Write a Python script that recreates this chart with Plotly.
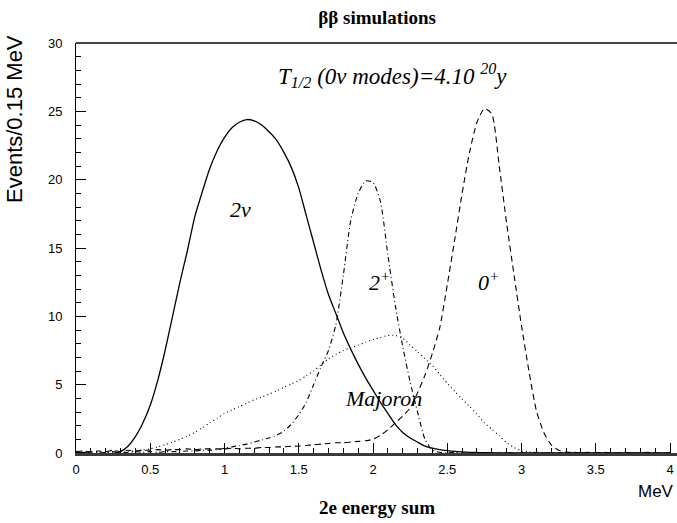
import plotly.graph_objects as go

# ---- data ----
x_energy = [round(0.05 * i, 2) for i in range(81)]  # 0.00 .. 4.00 MeV

two_nu = [0.0, 0.05, -0.05, -0.1, -0.1, -0.05, 0.1, 0.5, 1.2, 2.2,
          3.5, 5.3, 7.5, 10.0, 12.5, 14.8, 17.3, 19.1, 20.8, 22.1,
          23.1, 23.8, 24.2, 24.4, 24.3, 24.0, 23.5, 22.9, 22.0, 20.9,
          19.4, 17.4, 15.4, 13.4, 11.6, 10.2, 8.8, 7.6, 6.5, 5.5,
          4.6, 3.7, 2.9, 2.1, 1.5, 1.1, 0.8, 0.5, 0.35, 0.25,
          0.18, 0.12, 0.08, 0.05, 0.03, 0.02, 0.02, 0.01, 0.01, 0.01,
          0.0, 0.01, 0.0, 0.0, 0.01, 0.0, 0.0, 0.0, 0.0, 0.0,
          0.0, 0.0, 0.0, 0.0, 0.0, 0.0, 0.0, 0.0, 0.0, 0.0, 0.0]

zero_plus = [0.1, 0.15, 0.05, 0.15, 0.1, 0.2, 0.1, 0.2, 0.15, 0.2,
             0.2, 0.25, 0.2, 0.25, 0.25, 0.3, 0.25, 0.3, 0.3, 0.3,
             0.3, 0.35, 0.3, 0.35, 0.35, 0.4, 0.4, 0.45, 0.45, 0.5,
             0.5, 0.55, 0.6, 0.65, 0.7, 0.75, 0.75, 0.8, 0.85, 0.9,
             1.0, 1.3, 1.7, 2.2, 2.7, 3.3, 4.4, 5.7, 7.3, 9.2,
             12.3, 15.6, 19.0, 22.0, 24.2, 25.2, 24.8, 21.0, 16.8, 13.0,
             9.3, 6.0, 3.1, 1.5, 0.6, 0.2, 0.05, 0.05, 0.0, 0.05,
             0.0, 0.05, 0.0, 0.0, 0.05, 0.0, 0.0, 0.05, 0.0, 0.0, 0.0]

two_plus = [0.05, 0.0, 0.1, 0.0, 0.05, 0.1, 0.0, 0.05, 0.1, 0.05,
            0.1, 0.05, 0.1, 0.1, 0.1, 0.15, 0.15, 0.2, 0.2, 0.25,
            0.35, 0.45, 0.55, 0.65, 0.8, 0.95, 1.1, 1.3, 1.6, 2.1,
            2.8, 3.7, 5.0, 6.3, 7.5, 9.4, 13.0, 17.0, 19.0, 19.9,
            19.8, 18.4, 14.5, 10.8, 7.8, 5.2, 3.0, 1.0, 0.2, 0.05,
            0.0, 0.05, 0.0, 0.0, 0.05, 0.0, 0.0, 0.0, 0.05, 0.0,
            0.0, 0.0, 0.0, 0.0, 0.0, 0.0, 0.0, 0.0, 0.0, 0.0,
            0.0, 0.0, 0.0, 0.0, 0.0, 0.0, 0.0, 0.0, 0.0, 0.0, 0.0]

majoron = [0.0, 0.0, 0.0, 0.01, 0.02, 0.03, 0.05, 0.1, 0.15, 0.22,
           0.3, 0.45, 0.6, 0.8, 1.0, 1.25, 1.5, 1.85, 2.2, 2.55,
           2.9, 3.15, 3.4, 3.65, 3.9, 4.1, 4.3, 4.55, 4.8, 5.05,
           5.3, 5.65, 6.0, 6.45, 6.9, 7.2, 7.5, 7.7, 7.9, 8.1,
           8.3, 8.45, 8.6, 8.6, 8.4, 7.9, 7.4, 6.9, 6.4, 5.75,
           5.1, 4.5, 3.95, 3.4, 2.85, 2.2, 1.75, 1.25, 0.75, 0.4,
           0.15, 0.08, 0.05, 0.02, 0.0, 0.0, 0.0, 0.0, 0.0, 0.0,
           0.0, 0.0, 0.0, 0.0, 0.0, 0.0, 0.0, 0.0, 0.0, 0.0, 0.0]

x_ticks = [0, 0.5, 1, 1.5, 2, 2.5, 3, 3.5, 4]
x_tick_text = ["0", "0.5", "1", "1.5", "2", "2.5", "3", "3.5", "4"]
y_ticks = [0, 5, 10, 15, 20, 25, 30]

SERIF = "Liberation Serif, Times New Roman, serif"
SANS = "Liberation Sans, Arial, sans-serif"

fig = go.Figure()
fig.add_trace(go.Scatter(x=x_energy, y=two_nu, mode="lines",
                         line=dict(color="black", width=1.3, shape="spline", smoothing=0.6)))
fig.add_trace(go.Scatter(x=x_energy, y=zero_plus, mode="lines",
                         line=dict(color="black", width=1.1, dash="6px,4px", shape="spline", smoothing=0.6)))
fig.add_trace(go.Scatter(x=x_energy, y=two_plus, mode="lines",
                         line=dict(color="black", width=1.1, dash="5px,3px,1px,3px", shape="spline", smoothing=0.6)))
fig.add_trace(go.Scatter(x=x_energy, y=majoron, mode="lines",
                         line=dict(color="black", width=1.1, dash="1px,3px", shape="spline", smoothing=0.6)))

fig.update_layout(
    width=677, height=523,
    margin=dict(l=76, r=0, t=43, b=70),
    paper_bgcolor="white", plot_bgcolor="white",
    showlegend=False,
    font=dict(family=SANS, size=13, color="black"),
    title=dict(text="<b>ββ simulations</b>", x=0.557, xanchor="center", y=0.967, yanchor="middle",
               font=dict(family=SERIF, size=19, color="black")),
)

fig.update_xaxes(
    range=[0, 4.047], tickmode="array", tickvals=x_ticks, ticktext=x_tick_text,
    ticks="inside", ticklen=10, tickwidth=1, tickcolor="black",
    minor=dict(dtick=0.1, ticks="inside", ticklen=5, tickwidth=1, tickcolor="black"),
    showline=True, linewidth=3, linecolor="#3a3a3a", mirror=False,
    showgrid=False, zeroline=False, tickfont=dict(family=SANS, size=13),
    ticklabelstandoff=2,
)
fig.update_yaxes(
    range=[0, 30], tickmode="array", tickvals=y_ticks,
    ticks="inside", ticklen=10, tickwidth=1, tickcolor="black",
    minor=dict(dtick=1, ticks="inside", ticklen=5, tickwidth=1, tickcolor="black"),
    showline=True, linewidth=1, linecolor="black",
    showgrid=False, zeroline=False, tickfont=dict(family=SANS, size=13),
    ticklabelstandoff=10,
)

# top frame line
fig.add_shape(type="line", xref="paper", yref="paper", x0=0, x1=1, y0=1, y1=1,
              line=dict(color="#444444", width=2))

ann = [
    dict(text="<i>T<sub>1/2</sub> (0ν modes)=4.10 <sup>20</sup>y</i>", x=0.526, y=0.920,
         font=dict(family=SERIF, size=23)),
    dict(text="<i>2ν</i>", x=0.2745, y=0.593, font=dict(family=SERIF, size=22)),
    dict(text="<i>2<sup>+</sup></i>", x=0.505, y=0.42, font=dict(family=SERIF, size=22)),
    dict(text="<i>0<sup>+</sup></i>", x=0.687, y=0.42, font=dict(family=SERIF, size=22)),
    dict(text="<i>Majoron</i>", x=0.511, y=0.134, font=dict(family=SERIF, size=22)),
]
for a in ann:
    fig.add_annotation(xref="paper", yref="paper", showarrow=False, xanchor="center", yanchor="middle", **a)

fig.add_annotation(text="<b>2e energy sum</b>", xref="paper", yref="paper", x=0.501, y=-0.134,
                   xanchor="center", yanchor="middle", showarrow=False,
                   font=dict(family=SERIF, size=19))
fig.add_annotation(text="MeV", xref="paper", yref="paper", x=0.965, y=-0.095,
                   xanchor="center", yanchor="middle", showarrow=False,
                   font=dict(family=SANS, size=17))
fig.add_annotation(text="Events/0.15 MeV", xref="paper", yref="paper", x=-0.1015, y=1.0244,
                   xanchor="center", yanchor="top", textangle=-90, showarrow=False,
                   font=dict(family=SANS, size=22))

fig.write_html("out.html", config={"displayModeBar": False},
               post_script="document.body.style.margin='0';")
